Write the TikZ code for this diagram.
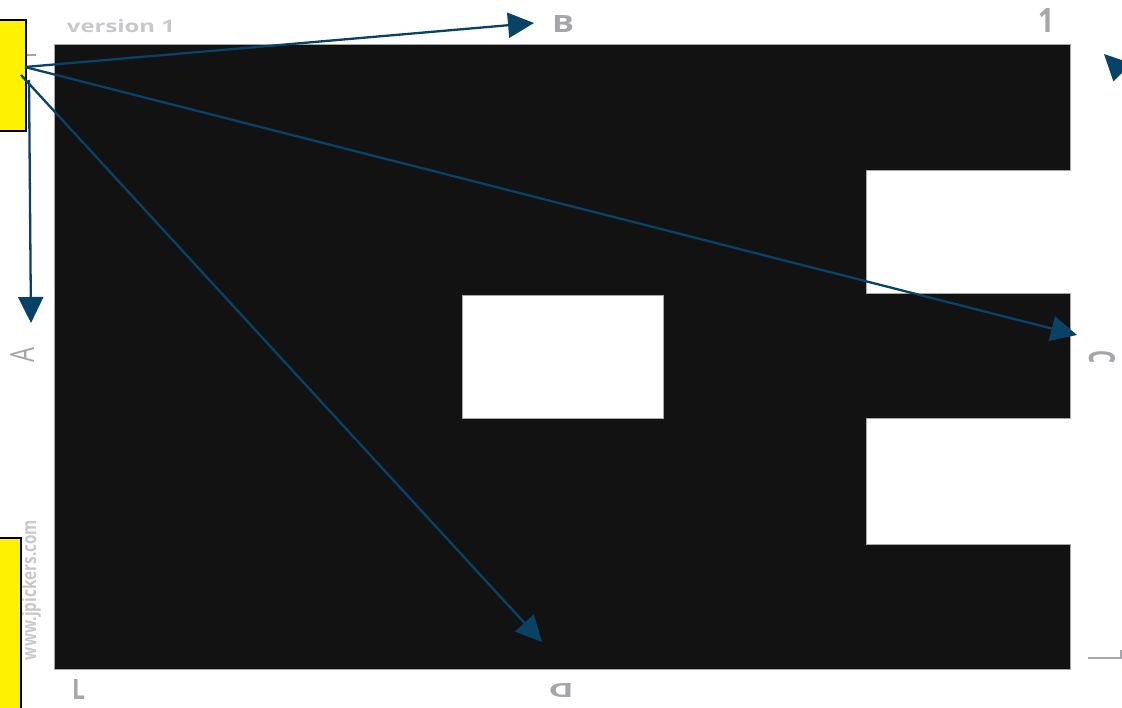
\documentclass[tikz,border=0pt]{standalone}
\usepackage{fontspec}
\setmainfont{Open Sans}
\usetikzlibrary{arrows.meta}
\definecolor{arrowblue}{RGB}{8,66,102}
\definecolor{markblack}{RGB}{18,18,18}
\definecolor{labgray}{RGB}{165,165,170}
\definecolor{lightgray}{RGB}{200,200,204}
\tikzset{
  ybox/.style={draw=black, line width=1.3pt, fill=yellow, inner sep=0pt},
  ann/.style={draw=arrowblue, line width=2.3pt, -{Triangle[length=26pt,width=25pt]}},
  lab/.style={text=labgray, inner sep=0pt, font=\bfseries},
  faint/.style={text=lightgray, inner sep=0pt, font=\bfseries},
  tick/.style={draw=labgray, line width=1.5pt}
}
\begin{document}
\begin{tikzpicture}[x=1pt,y=-1pt]
\useasboundingbox (0,0) rectangle (1122,707);
\clip (0,0) rectangle (1122,707);
\fill[white] (0,0) rectangle (1122,707);
% marker
\path[fill=markblack, draw=gray!70, line width=0.8pt, even odd rule]
  (54,44) -- (1070,44) -- (1070,170) -- (866,170) -- (866,293) -- (1070,293)
  -- (1070,418) -- (866,418) -- (866,544) -- (1070,544) -- (1070,669) -- (54,669) -- cycle
  (462,295) rectangle (663,418);
% labels around the marker
\node[faint] (ver) at (121,26.5) {\resizebox{108pt}{13pt}{version 1}};
\node[lab] (labB) at (563,23.5) {\resizebox{22pt}{17pt}{B}};
\node[lab] (lab1) at (1046,20.5) {\resizebox{16pt}{24pt}{1}};
\node[lab] (labL) at (78.5,689) {\resizebox{13pt}{20pt}{L}};
\node[lab, font=\normalfont] (labA) at (22,355) [rotate=90] {\resizebox{15pt}{24pt}{A}};
\node[lab, rotate=-90] (labC) at (1102,357) {\resizebox{13pt}{26pt}{C}};
\node[lab, rotate=180] (labD) at (561,690) {\resizebox{25pt}{14pt}{D}};
\node[faint, rotate=90] (url) at (31,590) {\resizebox{140pt}{15pt}{www.jpickers.com}};
\draw[tick] (27,55) -- (36,55);
\draw[tick] (1088,658) -- (1121,658) -- (1121,650);
% yellow boxes
\node[ybox, minimum width=28pt, minimum height=111pt] (box1) at (12,75.5) {};
\node[ybox, minimum width=23pt, minimum height=172pt] (box2) at (9.5,624) {};
% arrow end points
\coordinate (oB) at (25,67);
\coordinate (oD) at (21,75);
\coordinate (oA) at (29,80);
\coordinate (tB) at (534,23);
\coordinate (tC) at (1077,335);
\coordinate (tD) at (542,642);
\coordinate (tA) at (31,323);
\coordinate (sE) at (1185,135);
\coordinate (tE) at (1104,54);
% arrows
\draw[ann] (oB) -- (tB);
\draw[ann] (oB) -- (tC);
\draw[ann] (oD) -- (tD);
\draw[ann] (oA) -- (tA);
\draw[ann] (sE) -- (tE);
\end{tikzpicture}
\end{document}
